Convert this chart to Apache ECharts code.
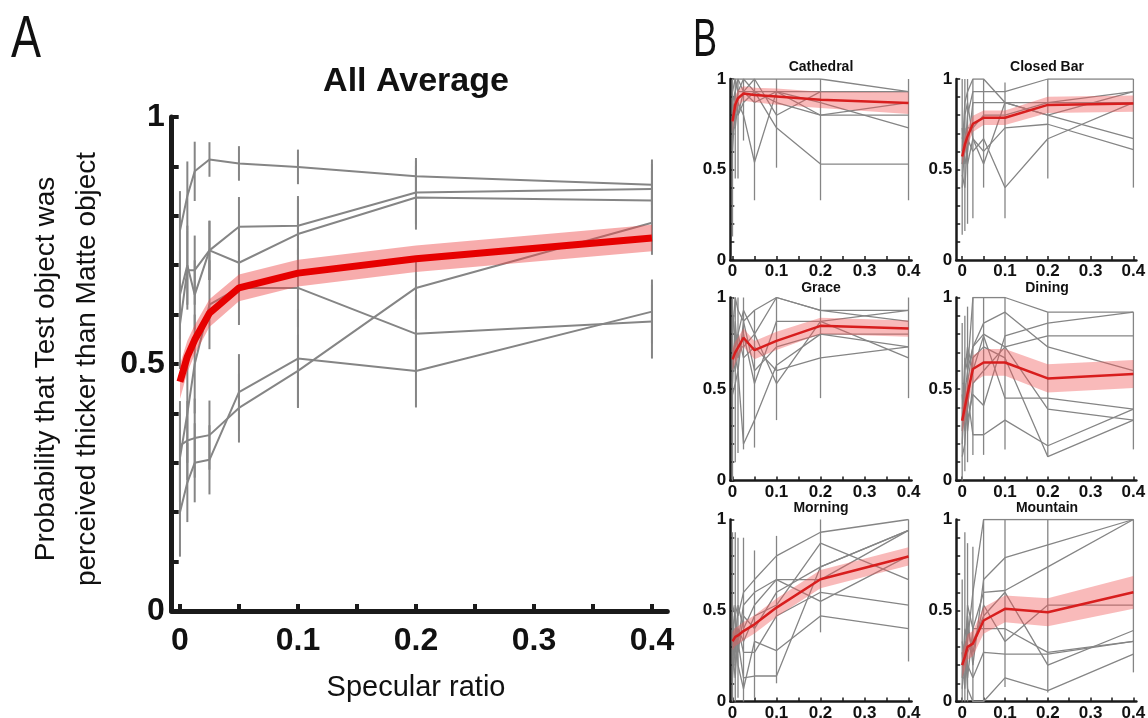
<!DOCTYPE html>
<html>
<head>
<meta charset="utf-8">
<script src="https://cdn.jsdelivr.net/npm/echarts@6/dist/echarts.min.js"></script>
<style>html,body{margin:0;padding:0;background:#fff}#c{width:1148px;height:718px}</style>
</head>
<body>
<div id="c"></div>
<script>
// ---------- DATA ----------
const X = [0, 0.00625, 0.0125, 0.025, 0.05, 0.1, 0.2, 0.4];
const xTickValues = [0, 0.05, 0.1, 0.15, 0.2, 0.25, 0.3, 0.35, 0.4];
const xLabelValues = [0, 0.1, 0.2, 0.3, 0.4];
const yTickValues = [0, 0.1, 0.2, 0.3, 0.4, 0.5, 0.6, 0.7, 0.8, 0.9, 1];
const yLabelValues = [0, 0.5, 1];

// Panel A: grand average and per-scene averages
const allMean = [0.464, 0.515, 0.549, 0.603, 0.654, 0.684, 0.713, 0.755];
const allBand = [0.035, 0.032, 0.030, 0.028, 0.027, 0.027, 0.027, 0.027];
const avgCathedral = [0.77, 0.84, 0.89, 0.914, 0.906, 0.899, 0.880, 0.863];
const avgClosedBar = [0.58, 0.69, 0.69, 0.73, 0.778, 0.780, 0.847, 0.854];
const avgGrace     = [0.64, 0.70, 0.64, 0.73, 0.705, 0.763, 0.837, 0.831];
const avgDining    = [0.31, 0.40, 0.50, 0.62, 0.654, 0.654, 0.561, 0.586];
const avgMorning   = [0.335, 0.345, 0.35, 0.356, 0.411, 0.486, 0.654, 0.786];
const avgMountain  = [0.20, 0.26, 0.30, 0.306, 0.443, 0.511, 0.486, 0.606];
const errCathedral = [0.08, 0.07, 0.06, 0.035, 0.035, 0.035, 0.037, 0.042];
const errClosedBar = [0.09, 0.08, 0.07, 0.06, 0.06, 0.06, 0.065, 0.06];
const errGrace     = [0.09, 0.08, 0.07, 0.06, 0.06, 0.07, 0.065, 0.06];
const errDining    = [0.09, 0.10, 0.10, 0.09, 0.075, 0.08, 0.08, 0.075];
const errMorning   = [0.09, 0.08, 0.08, 0.07, 0.07, 0.074, 0.064, 0.065];
const errMountain  = [0.09, 0.08, 0.08, 0.07, 0.077, 0.10, 0.074, 0.065];

// Panel B: per-scene mean, band, observers, vertical bar extents
const sceneTitles = ['Cathedral', 'Closed Bar', 'Grace', 'Dining', 'Morning', 'Mountain'];

const cathedralMean = [0.766, 0.858, 0.894, 0.92, 0.912, 0.903, 0.885, 0.867];
const cathedralBand = [0.06, 0.05, 0.045, 0.04, 0.04, 0.045, 0.045, 0.06];
const cathedralObs = [
  [1.0, 1.0, 1.0, 1.0, 1.0, 1.0, 1.0, 0.93],
  [0.93, 1.0, 0.93, 1.0, 0.93, 0.93, 0.93, 0.93],
  [0.87, 0.93, 1.0, 0.93, 1.0, 0.80, 0.93, 0.93],
  [0.67, 0.80, 0.93, 0.93, 0.93, 0.87, 0.80, 0.80],
  [0.60, 0.87, 0.80, 0.87, 0.93, 0.73, 0.53, 0.53],
  [0.73, 0.73, 0.87, 0.80, 0.54, 0.93, 0.87, 0.73],
  [0.80, 0.93, 0.80, 0.93, 0.87, 0.93, 0.80, 0.87]
];
const cathedralBarLo = [0.13, 0.45, 0.45, 0.66, 0.33, 0.51, 0.33, 0.33];
const cathedralBarHi = [1, 1, 1, 1, 1, 1, 1, 1];

const closedBarMean = [0.572, 0.637, 0.683, 0.752, 0.786, 0.786, 0.857, 0.864];
const closedBarBand = [0.05, 0.05, 0.05, 0.045, 0.04, 0.04, 0.045, 0.045];
const closedBarObs = [
  [0.60, 0.87, 0.93, 1.0, 1.0, 0.87, 0.80, 0.67],
  [0.53, 0.60, 0.80, 0.93, 0.93, 0.93, 1.0, 1.0],
  [0.73, 0.53, 0.60, 0.87, 0.87, 0.87, 0.87, 0.93],
  [0.47, 0.40, 0.67, 0.60, 0.67, 0.40, 0.67, 0.87],
  [0.67, 0.73, 0.53, 0.67, 0.60, 0.73, 0.75, 0.61],
  [0.40, 0.67, 0.73, 0.73, 0.80, 0.80, 0.87, 0.87],
  [0.53, 0.80, 0.87, 0.67, 0.53, 0.87, 0.80, 0.93]
];
const closedBarBarLo = [0.14, 0.16, 0.2, 0.23, 0.4, 0.23, 0.45, 0.4];
const closedBarBarHi = [1, 1, 1, 1, 1, 0.98, 1, 1];

const graceMean = [0.662, 0.70, 0.726, 0.78, 0.712, 0.763, 0.845, 0.83];
const graceBand = [0.06, 0.06, 0.055, 0.05, 0.05, 0.05, 0.045, 0.045];
const graceObs = [
  [0.80, 1.0, 0.93, 0.87, 0.93, 1.0, 0.93, 0.93],
  [0.67, 0.60, 0.80, 0.93, 0.80, 1.0, 0.93, 0.87],
  [0.53, 0.87, 0.67, 0.80, 0.53, 0.87, 0.87, 0.67],
  [0.93, 0.73, 0.80, 0.67, 0.73, 0.60, 0.67, 0.73],
  [0.47, 0.53, 0.60, 0.20, 0.33, 0.63, 0.80, 0.80],
  [0.60, 0.80, 0.73, 0.73, 0.80, 0.53, 0.87, 0.93],
  [0.73, 0.67, 0.60, 0.87, 0.60, 0.73, 0.80, 0.73]
];
const graceBarLo = [0.0, 0.1, 0.15, 0.17, 0.18, 0.33, 0.45, 0.45];
const graceBarHi = [1, 1, 1, 1, 0.93, 1, 1, 1];

const diningMean = [0.327, 0.40, 0.473, 0.609, 0.645, 0.645, 0.558, 0.582];
const diningBand = [0.07, 0.075, 0.075, 0.075, 0.073, 0.073, 0.077, 0.077];
const diningObs = [
  [0.20, 0.47, 0.60, 1.0, 1.0, 1.0, 0.92, 0.92],
  [0.40, 0.33, 0.53, 0.73, 0.86, 0.92, 0.73, 0.60],
  [0.27, 0.60, 0.73, 0.60, 0.79, 0.45, 0.45, 0.39],
  [0.33, 0.40, 0.33, 0.47, 0.41, 0.79, 0.86, 0.92],
  [0.13, 0.20, 0.47, 0.25, 0.25, 0.33, 0.19, 0.39],
  [0.47, 0.27, 0.40, 0.67, 0.73, 0.67, 0.13, 0.33],
  [0.53, 0.53, 0.27, 0.53, 0.60, 0.73, 0.39, 0.33],
  [0.33, 0.67, 0.60, 0.73, 0.80, 0.73, 0.79, 0.79]
];
const diningBarLo = [0.0, 0.05, 0.1, 0.14, 0.14, 0.17, 0.13, 0.17];
const diningBarHi = [0.86, 0.9, 0.95, 1, 1, 1, 0.92, 0.92];

const morningMean = [0.331, 0.355, 0.363, 0.387, 0.424, 0.516, 0.672, 0.797];
const morningBand = [0.05, 0.05, 0.05, 0.05, 0.05, 0.05, 0.05, 0.05];
const morningObs = [
  [0.33, 0.53, 0.47, 0.60, 0.67, 0.80, 0.93, 1.0],
  [0.47, 0.27, 0.53, 0.40, 0.53, 0.67, 0.67, 0.94],
  [0.20, 0.40, 0.27, 0.47, 0.40, 0.60, 0.74, 0.94],
  [0.40, 0.20, 0.33, 0.13, 0.14, 0.14, 0.74, 0.94],
  [0.13, 0.33, 0.40, 0.27, 0.27, 0.47, 0.60, 0.53],
  [0.53, 0.47, 0.20, 0.07, 0.33, 0.28, 0.47, 0.40],
  [0.27, 0.13, 0.40, 0.33, 0.47, 0.53, 0.87, 0.67],
  [0.40, 0.47, 0.33, 0.53, 0.60, 0.67, 0.55, 0.80]
];
const morningBarLo = [0.0, 0.0, 0.02, 0.0, 0.02, 0.1, 0.38, 0.22];
const morningBarHi = [0.93, 0.93, 0.9, 0.9, 0.83, 0.91, 1, 1];

const mountainMean = [0.20, 0.245, 0.30, 0.318, 0.445, 0.509, 0.49, 0.60];
const mountainBand = [0.07, 0.07, 0.07, 0.07, 0.073, 0.073, 0.077, 0.09];
const mountainObs = [
  [0.13, 0.40, 0.33, 0.60, 1.0, 1.0, 1.0, 1.0],
  [0.27, 0.07, 0.47, 0.20, 0.67, 0.79, 0.86, 1.0],
  [0.20, 0.33, 0.13, 0.40, 0.60, 0.61, 0.74, 1.0],
  [0.33, 0.20, 0.40, 0.27, 0.53, 0.33, 0.53, 0.53],
  [0.07, 0.27, 0.20, 0.13, 0.27, 0.26, 0.26, 0.33],
  [0.13, 0.13, 0.27, 0.33, 0.47, 0.60, 0.20, 0.39],
  [0.20, 0.33, 0.07, 0.00, 0.00, 0.13, 0.06, 0.26],
  [0.27, 0.20, 0.53, 0.40, 0.40, 0.40, 0.27, 0.33]
];
const mountainBarLo = [0.0, 0.0, 0.0, 0.0, 0.0, 0.08, 0.05, 0.16];
const mountainBarHi = [0.67, 0.93, 0.87, 0.85, 1, 1, 1, 1];

// ---------- BUILD ----------
const SANS = "'Liberation Sans',Arial,Helvetica,sans-serif";
const GRAY = '#858585';

const sceneAvg = [avgCathedral, avgClosedBar, avgGrace, avgDining, avgMorning, avgMountain];
const sceneErr = [errCathedral, errClosedBar, errGrace, errDining, errMorning, errMountain];
const sceneMean = [cathedralMean, closedBarMean, graceMean, diningMean, morningMean, mountainMean];
const sceneBand = [cathedralBand, closedBarBand, graceBand, diningBand, morningBand, mountainBand];
const sceneObs = [cathedralObs, closedBarObs, graceObs, diningObs, morningObs, mountainObs];
const sceneBarLo = [cathedralBarLo, closedBarBarLo, graceBarLo, diningBarLo, morningBarLo, mountainBarLo];
const sceneBarHi = [cathedralBarHi, closedBarBarHi, graceBarHi, diningBarHi, morningBarHi, mountainBarHi];

const grids = [], xAxes = [], yAxes = [], series = [];

function addAxes(g, big, xmin) {
  xAxes.push({
    type: 'value', gridIndex: g, min: xmin, max: big ? 0.413 : 0.407,
    splitLine: {show: false},
    axisLine: {onZero: false, lineStyle: {color: '#1a1a1a', width: big ? 5 : 2.5}},
    axisTick: {inside: true, length: big ? 7 : 4, lineStyle: {color: '#1a1a1a', width: big ? 4 : 1.5}, customValues: xTickValues},
    axisLabel: {customValues: xLabelValues, color: '#111', fontWeight: 'bold',
      fontFamily: SANS, fontSize: big ? 32 : 17, margin: big ? 14 : 3}
  });
  yAxes.push({
    type: 'value', gridIndex: g, min: 0, max: 1,
    splitLine: {show: false},
    axisLine: {onZero: false, lineStyle: {color: '#1a1a1a', width: big ? 5 : 2.5}},
    axisTick: {inside: true, length: big ? 7 : 4, lineStyle: {color: '#1a1a1a', width: big ? 4 : 1.5}, customValues: yTickValues},
    axisLabel: {customValues: yLabelValues, color: '#111', fontWeight: 'bold',
      fontFamily: SANS, fontSize: big ? 32 : 17, margin: big ? 7 : 4}
  });
}

function lineSeries(g, arr, color, width, z) {
  return {type: 'line', xAxisIndex: g, yAxisIndex: g, data: X.map((x, i) => [x, arr[i]]),
    symbol: 'none', lineStyle: {color: color, width: width}, z: z, silent: true};
}
function barSeries(g, lo, hi, width) {
  return {type: 'custom', xAxisIndex: g, yAxisIndex: g, z: 1, silent: true,
    data: X.map((x, i) => [x, lo[i], hi[i]]),
    encode: {x: 0, y: [1, 2]},
    renderItem: function (params, api) {
      const p1 = api.coord([api.value(0), api.value(1)]);
      const p2 = api.coord([api.value(0), api.value(2)]);
      return {type: 'line', shape: {x1: p1[0], y1: p1[1], x2: p2[0], y2: p2[1]},
        style: {stroke: GRAY, lineWidth: width}};
    }};
}
function bandSeries(g, mean, half, fill) {
  return {type: 'custom', xAxisIndex: g, yAxisIndex: g, z: 3, silent: true,
    data: [[X[0], mean[0]]],
    renderItem: function (params, api) {
      const pts = [];
      for (let i = 0; i < X.length; i++) pts.push(api.coord([X[i], mean[i] + half[i]]));
      for (let i = X.length - 1; i >= 0; i--) pts.push(api.coord([X[i], mean[i] - half[i]]));
      return {type: 'polygon', shape: {points: pts}, style: {fill: fill}};
    }};
}

// Panel A
grids.push({left: 171.7, top: 117, width: 495.6, height: 494, outerBoundsMode: 'none', containLabel: false});
addAxes(0, true, -0.007);
sceneAvg.forEach((arr, k) => {
  const lo = arr.map((v, i) => v - sceneErr[k][i]);
  const hi = arr.map((v, i) => v + sceneErr[k][i]);
  series.push(barSeries(0, lo, hi, 2));
  series.push(lineSeries(0, arr, GRAY, 2, 2));
});
series.push(bandSeries(0, allMean, allBand, 'rgba(238,70,70,0.45)'));
series.push(lineSeries(0, allMean, '#e60000', 7, 4));

// Panel B
const colLeft = [730.3, 956.2];
const colWidth = [181.3, 180.2];
const colMin = [-0.005, -0.014];
const rowTop = [79, 297.5, 519.5];
const rowHeight = [181, 183, 182];
for (let k = 0; k < 6; k++) {
  const g = k + 1, c = k % 2, r = Math.floor(k / 2);
  grids.push({left: colLeft[c], top: rowTop[r], width: colWidth[c], height: rowHeight[r], outerBoundsMode: 'none', containLabel: false});
  addAxes(g, false, colMin[c]);
  series.push(barSeries(g, sceneBarLo[k], sceneBarHi[k], 1.3));
  sceneObs[k].forEach(o => series.push(lineSeries(g, o, GRAY, 1.3, 2)));
  series.push(bandSeries(g, sceneMean[k], sceneBand[k], 'rgba(240,90,90,0.42)'));
  series.push(lineSeries(g, sceneMean[k], '#d81e1e', 2.5, 4));
}

// Texts
const graphics = [
  {type: 'text', x: 11, y: 40, scaleX: 0.75, style: {text: 'A', font: "normal 60px " + SANS, fill: '#111', align: 'left', verticalAlign: 'middle'}},
  {type: 'text', x: 693, y: 41, scaleX: 0.68, style: {text: 'B', font: "normal 53px " + SANS, fill: '#111', align: 'left', verticalAlign: 'middle'}},
  {type: 'text', x: 416, y: 82, style: {text: 'All Average', font: "bold 34px " + SANS, fill: '#111', align: 'center', verticalAlign: 'middle'}},
  {type: 'text', x: 416, y: 688, style: {text: 'Specular ratio', font: "normal 29px " + SANS, fill: '#111', align: 'center', verticalAlign: 'middle'}},
  {type: 'text', x: 67, y: 369, rotation: Math.PI / 2,
    style: {text: 'Probability that Test object was\nperceived thicker than Matte object', font: "normal 28px " + SANS,
      lineHeight: 41, fill: '#111', align: 'center', verticalAlign: 'middle'}}
];
const titleX = [821, 1047];
const titleY = [67, 288, 508];
for (let k = 0; k < 6; k++) {
  graphics.push({type: 'text', x: titleX[k % 2], y: titleY[Math.floor(k / 2)],
    style: {text: sceneTitles[k], font: "bold 14px " + SANS, fill: '#111', align: 'center', verticalAlign: 'middle'}});
}

const chart = echarts.init(document.getElementById('c'), null, {renderer: 'canvas'});
chart.setOption({
  animation: false,
  backgroundColor: '#fff',
  grid: grids, xAxis: xAxes, yAxis: yAxes, series: series,
  graphic: graphics
});
</script>
</body>
</html>
